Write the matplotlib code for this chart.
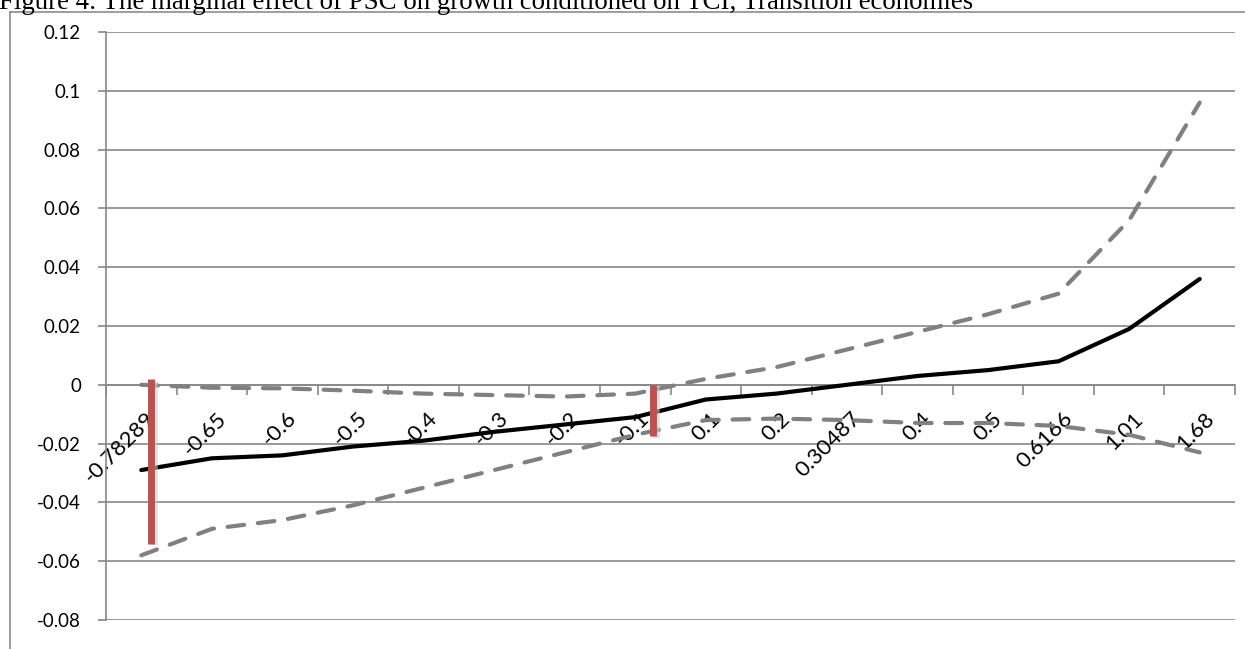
import matplotlib
matplotlib.use("Agg")
import matplotlib.pyplot as plt
from matplotlib.lines import Line2D
import matplotlib.transforms as mtransforms
import numpy as np

title = "Figure 4: The marginal effect of PSC on growth conditioned on TCI, Transition economies"
categories = ["-0.78289", "-0.65", "-0.6", "-0.5", "-0.4", "-0.3", "-0.2", "-0.1",
              "0.1", "0.2", "0.30487", "0.4", "0.5", "0.6166", "1.01", "1.68"]
marginal_effect = [-0.029, -0.025, -0.024, -0.021, -0.019, -0.016, -0.0135, -0.011,
                   -0.005, -0.003, 0.0, 0.003, 0.005, 0.008, 0.019, 0.036]
upper_ci = [0.0, -0.001, -0.0012, -0.002, -0.003, -0.0035, -0.004, -0.003,
            0.002, 0.006, 0.012, 0.018, 0.024, 0.031, 0.056, 0.096]
lower_ci = [-0.058, -0.049, -0.046, -0.041, -0.035, -0.029, -0.023, -0.017,
            -0.012, -0.0115, -0.012, -0.013, -0.013, -0.014, -0.017, -0.023]
# red annotation bars: category position, top value, bottom value
red_bar_pos = [0.14, 7.25]
red_bar_top = [0.002, 0.0]
red_bar_bottom = [-0.054, -0.0175]
yticks = [-0.08, -0.06, -0.04, -0.02, 0, 0.02, 0.04, 0.06, 0.08, 0.1, 0.12]
ytick_labels = ["-0.08", "-0.06", "-0.04", "-0.02", "0", "0.02", "0.04", "0.06", "0.08", "0.1", "0.12"]

W, H = 1245, 649
fig = plt.figure(figsize=(W / 100, H / 100), dpi=100)
ax = fig.add_axes([106 / W, 1 - 620 / H, (1235 - 106) / W, (620 - 32) / H])

grid_col = "#878787"
x = np.arange(len(categories))

for yv in yticks:
    ax.axhline(yv, color=grid_col, lw=1.2, zorder=1)

ax.plot(x, upper_ci, color="#808080", lw=3, dashes=(4, 3.3), dash_capstyle="round",
        solid_capstyle="round", zorder=3)
ax.plot(x, lower_ci, color="#808080", lw=3, dashes=(4, 3.3), dash_capstyle="round",
        solid_capstyle="round", zorder=3)
ax.plot(x, marginal_effect, color="black", lw=3, solid_capstyle="round", zorder=4)

for px, t, b in zip(red_bar_pos, red_bar_top, red_bar_bottom):
    ax.plot([px + 0.04, px + 0.04], [t - 0.0006, b - 0.0006], color="#c9c9c9", lw=5.5,
            solid_capstyle="butt", zorder=4, alpha=0.6)
    ax.plot([px, px], [t, b], color="#C0504D", lw=5, solid_capstyle="butt", zorder=5)

ax.set_xlim(-0.5, len(categories) - 0.5)
ax.set_ylim(-0.08, 0.12)

ax.set_yticks(yticks)
ax.set_yticklabels(ytick_labels, fontsize=13.5, family="Lato")
ax.tick_params(axis="y", length=6, width=1.2, color=grid_col, pad=12)

ax.spines["bottom"].set_position(("data", 0))
ax.spines["bottom"].set_color(grid_col)
ax.spines["bottom"].set_linewidth(1.2)
ax.spines["left"].set_color(grid_col)
ax.spines["left"].set_linewidth(1.2)
ax.spines["top"].set_visible(False)
ax.spines["right"].set_visible(False)

ax.set_xticks(x)
ax.set_xticklabels(categories, fontsize=16, family="Lato", rotation=45,
                   ha="right", va="center", rotation_mode="anchor")
ax.tick_params(axis="x", which="major", length=0, pad=22)
ax.set_xticks(np.arange(len(categories) + 1) - 0.5, minor=True)
ax.tick_params(axis="x", which="minor", length=7, width=1.2, color=grid_col, direction="out")

offset = mtransforms.ScaledTranslation(11 / 100, 0, fig.dpi_scale_trans)
for lab in ax.get_xticklabels():
    lab.set_transform(lab.get_transform() + offset)

# outer frame lines
fig.add_artist(Line2D([10 / W, 10 / W], [0, 1 - 12 / H], transform=fig.transFigure,
                      color="#8c8c8c", lw=1.2))
fig.add_artist(Line2D([10 / W, 1], [1 - 12 / H, 1 - 12 / H], transform=fig.transFigure,
                      color="#8c8c8c", lw=1.2))

fig.text(-0.001, 1 - 9 / H, title, family="Liberation Serif", fontsize=19.4,
         va="baseline", ha="left")

fig.savefig("out.png", dpi=100)
